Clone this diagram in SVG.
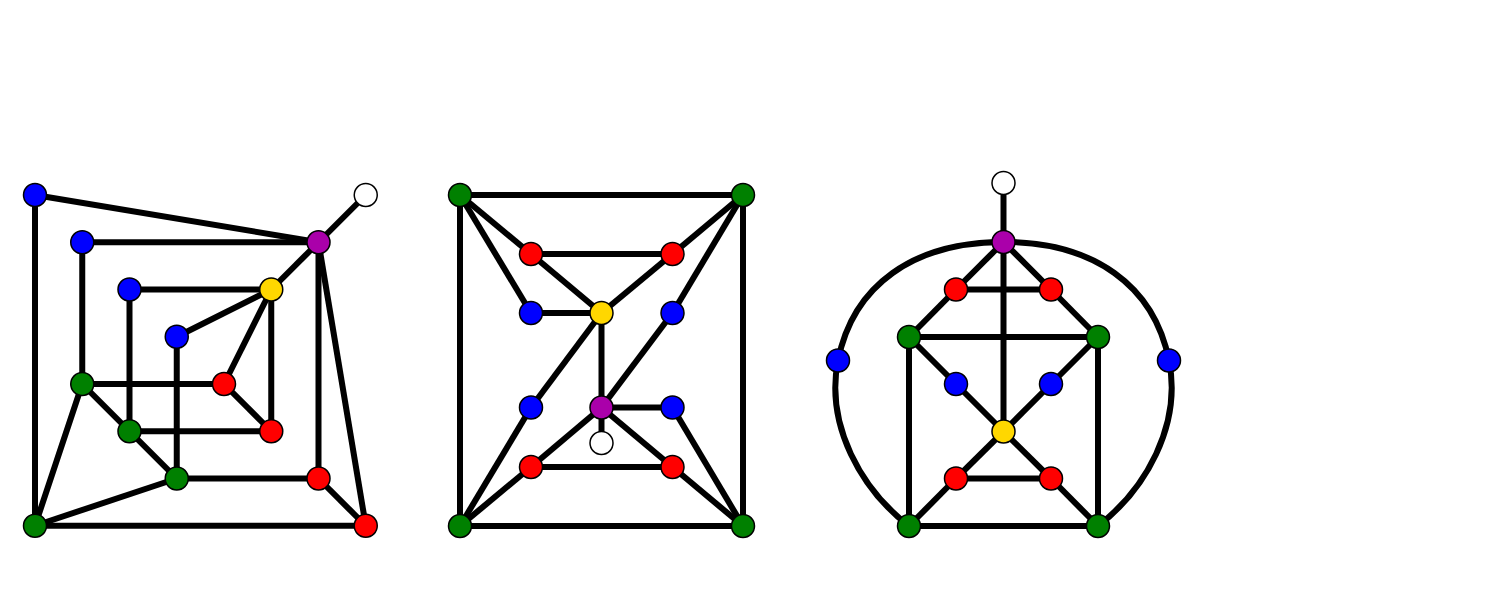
<svg xmlns="http://www.w3.org/2000/svg" width="1512" height="590" viewBox="0 0 1512 590">
<style>
.e{stroke:#000;stroke-width:6;fill:none;stroke-linecap:butt}
.n{stroke:#000;stroke-width:1.5}
.b{fill:#0000ff}.r{fill:#ff0000}.g{fill:#008000}.p{fill:#aa00aa}.y{fill:#ffd700}.w{fill:#ffffff}
</style>
<rect width="1512" height="590" fill="#fff"/>
<g id="connectors">
<!-- graph 1 -->
<line class="e" x1="35" y1="195" x2="318.5" y2="242.25"/>
<line class="e" x1="35" y1="195" x2="35" y2="525.75"/>
<line class="e" x1="365.75" y1="195" x2="318.5" y2="242.25"/>
<line class="e" x1="82.25" y1="242.25" x2="318.5" y2="242.25"/>
<line class="e" x1="82.25" y1="242.25" x2="82.25" y2="384"/>
<line class="e" x1="318.5" y1="242.25" x2="271.25" y2="289.5"/>
<line class="e" x1="318.5" y1="242.25" x2="318.5" y2="478.5"/>
<line class="e" x1="318.5" y1="242.25" x2="365.75" y2="525.75"/>
<line class="e" x1="129.5" y1="289.5" x2="271.25" y2="289.5"/>
<line class="e" x1="129.5" y1="289.5" x2="129.5" y2="431.25"/>
<line class="e" x1="271.25" y1="289.5" x2="176.75" y2="336.75"/>
<line class="e" x1="271.25" y1="289.5" x2="224" y2="384"/>
<line class="e" x1="271.25" y1="289.5" x2="271.25" y2="431.25"/>
<line class="e" x1="176.75" y1="336.75" x2="176.75" y2="478.5"/>
<line class="e" x1="82.25" y1="384" x2="224" y2="384"/>
<line class="e" x1="82.25" y1="384" x2="129.5" y2="431.25"/>
<line class="e" x1="82.25" y1="384" x2="35" y2="525.75"/>
<line class="e" x1="224" y1="384" x2="271.25" y2="431.25"/>
<line class="e" x1="129.5" y1="431.25" x2="271.25" y2="431.25"/>
<line class="e" x1="129.5" y1="431.25" x2="176.75" y2="478.5"/>
<line class="e" x1="176.75" y1="478.5" x2="318.5" y2="478.5"/>
<line class="e" x1="176.75" y1="478.5" x2="35" y2="525.75"/>
<line class="e" x1="318.5" y1="478.5" x2="365.75" y2="525.75"/>
<line class="e" x1="35" y1="525.75" x2="365.75" y2="525.75"/>
<!-- graph 2 -->
<line class="e" x1="460" y1="195" x2="743" y2="195"/>
<line class="e" x1="460" y1="195" x2="460" y2="526"/>
<line class="e" x1="743" y1="195" x2="743" y2="526"/>
<line class="e" x1="460" y1="526" x2="743" y2="526"/>
<line class="e" x1="460" y1="195" x2="531" y2="254"/>
<line class="e" x1="460" y1="195" x2="531" y2="313"/>
<line class="e" x1="743" y1="195" x2="672.5" y2="254"/>
<line class="e" x1="743" y1="195" x2="672.5" y2="313"/>
<line class="e" x1="531" y1="254" x2="672.5" y2="254"/>
<line class="e" x1="531" y1="254" x2="601.5" y2="313"/>
<line class="e" x1="672.5" y1="254" x2="601.5" y2="313"/>
<line class="e" x1="531" y1="313" x2="601.5" y2="313"/>
<line class="e" x1="601.5" y1="313" x2="531" y2="407.5"/>
<line class="e" x1="601.5" y1="313" x2="601.5" y2="407.5"/>
<line class="e" x1="672.5" y1="313" x2="601.5" y2="407.5"/>
<line class="e" x1="601.5" y1="407.5" x2="672.5" y2="407.5"/>
<line class="e" x1="601.5" y1="407.5" x2="601.5" y2="443"/>
<line class="e" x1="601.5" y1="407.5" x2="531" y2="467"/>
<line class="e" x1="601.5" y1="407.5" x2="672.5" y2="467"/>
<line class="e" x1="531" y1="407.5" x2="460" y2="526"/>
<line class="e" x1="531" y1="467" x2="460" y2="526"/>
<line class="e" x1="531" y1="467" x2="672.5" y2="467"/>
<line class="e" x1="672.5" y1="467" x2="743" y2="526"/>
<line class="e" x1="672.5" y1="407.5" x2="743" y2="526"/>
<!-- graph 3 -->
<path class="e" d="M909,526 C861.6,489.4 825,425.5 838,360.5 C853,285 913.5,242 1003.5,242 C1093.5,242 1154,285 1169,360.5 C1182,425.5 1145.4,489.4 1098,526"/>
<line class="e" x1="1003.5" y1="183" x2="1003.5" y2="242"/>
<line class="e" x1="1003.5" y1="242" x2="956" y2="289.5"/>
<line class="e" x1="1003.5" y1="242" x2="1051" y2="289.5"/>
<line class="e" x1="1003.5" y1="242" x2="1003.5" y2="431.5"/>
<line class="e" x1="956" y1="289.5" x2="1051" y2="289.5"/>
<line class="e" x1="956" y1="289.5" x2="909" y2="337"/>
<line class="e" x1="1051" y1="289.5" x2="1098" y2="337"/>
<line class="e" x1="909" y1="337" x2="1098" y2="337"/>
<line class="e" x1="909" y1="337" x2="956" y2="384"/>
<line class="e" x1="1098" y1="337" x2="1051" y2="384"/>
<line class="e" x1="909" y1="337" x2="909" y2="526"/>
<line class="e" x1="1098" y1="337" x2="1098" y2="526"/>
<line class="e" x1="956" y1="384" x2="1003.5" y2="431.5"/>
<line class="e" x1="1051" y1="384" x2="1003.5" y2="431.5"/>
<line class="e" x1="1003.5" y1="431.5" x2="956" y2="478.5"/>
<line class="e" x1="1003.5" y1="431.5" x2="1051" y2="478.5"/>
<line class="e" x1="956" y1="478.5" x2="1051" y2="478.5"/>
<line class="e" x1="956" y1="478.5" x2="909" y2="526"/>
<line class="e" x1="1051" y1="478.5" x2="1098" y2="526"/>
<line class="e" x1="909" y1="526" x2="1098" y2="526"/>
</g>
<g id="g1-a"><circle class="n b" cx="35" cy="195" r="11.5"/></g>
<g id="g1-w"><circle class="n w" cx="365.75" cy="195" r="11.5"/></g>
<g id="g1-b"><circle class="n b" cx="82.25" cy="242.25" r="11.5"/></g>
<g id="g1-p"><circle class="n p" cx="318.5" cy="242.25" r="11.5"/></g>
<g id="g1-c"><circle class="n b" cx="129.5" cy="289.5" r="11.5"/></g>
<g id="g1-y"><circle class="n y" cx="271.25" cy="289.5" r="11.5"/></g>
<g id="g1-d"><circle class="n b" cx="176.75" cy="336.75" r="11.5"/></g>
<g id="g1-e"><circle class="n g" cx="82.25" cy="384" r="11.5"/></g>
<g id="g1-f"><circle class="n r" cx="224" cy="384" r="11.5"/></g>
<g id="g1-g"><circle class="n g" cx="129.5" cy="431.25" r="11.5"/></g>
<g id="g1-h"><circle class="n r" cx="271.25" cy="431.25" r="11.5"/></g>
<g id="g1-i"><circle class="n g" cx="176.75" cy="478.5" r="11.5"/></g>
<g id="g1-j"><circle class="n r" cx="318.5" cy="478.5" r="11.5"/></g>
<g id="g1-k"><circle class="n g" cx="35" cy="525.75" r="11.5"/></g>
<g id="g1-l"><circle class="n r" cx="365.75" cy="525.75" r="11.5"/></g>

<g id="g2-tl"><circle class="n g" cx="460" cy="195" r="11.5"/></g>
<g id="g2-tr"><circle class="n g" cx="743" cy="195" r="11.5"/></g>
<g id="g2-r1"><circle class="n r" cx="531" cy="254" r="11.5"/></g>
<g id="g2-r2"><circle class="n r" cx="672.5" cy="254" r="11.5"/></g>
<g id="g2-b1"><circle class="n b" cx="531" cy="313" r="11.5"/></g>
<g id="g2-y"><circle class="n y" cx="601.5" cy="313" r="11.5"/></g>
<g id="g2-b2"><circle class="n b" cx="672.5" cy="313" r="11.5"/></g>
<g id="g2-b3"><circle class="n b" cx="531" cy="407.5" r="11.5"/></g>
<g id="g2-p"><circle class="n p" cx="601.5" cy="407.5" r="11.5"/></g>
<g id="g2-b4"><circle class="n b" cx="672.5" cy="407.5" r="11.5"/></g>
<g id="g2-w"><circle class="n w" cx="601.5" cy="443" r="11.5"/></g>
<g id="g2-r3"><circle class="n r" cx="531" cy="467" r="11.5"/></g>
<g id="g2-r4"><circle class="n r" cx="672.5" cy="467" r="11.5"/></g>
<g id="g2-bl"><circle class="n g" cx="460" cy="526" r="11.5"/></g>
<g id="g2-br"><circle class="n g" cx="743" cy="526" r="11.5"/></g>

<g id="g3-w"><circle class="n w" cx="1003.5" cy="183" r="11.5"/></g>
<g id="g3-p"><circle class="n p" cx="1003.5" cy="242" r="11.5"/></g>
<g id="g3-r1"><circle class="n r" cx="956" cy="289.5" r="11.5"/></g>
<g id="g3-r2"><circle class="n r" cx="1051" cy="289.5" r="11.5"/></g>
<g id="g3-g1"><circle class="n g" cx="909" cy="337" r="11.5"/></g>
<g id="g3-g2"><circle class="n g" cx="1098" cy="337" r="11.5"/></g>
<g id="g3-bl"><circle class="n b" cx="838" cy="360.5" r="11.5"/></g>
<g id="g3-br"><circle class="n b" cx="1169" cy="360.5" r="11.5"/></g>
<g id="g3-b1"><circle class="n b" cx="956" cy="384" r="11.5"/></g>
<g id="g3-b2"><circle class="n b" cx="1051" cy="384" r="11.5"/></g>
<g id="g3-y"><circle class="n y" cx="1003.5" cy="431.5" r="11.5"/></g>
<g id="g3-r3"><circle class="n r" cx="956" cy="478.5" r="11.5"/></g>
<g id="g3-r4"><circle class="n r" cx="1051" cy="478.5" r="11.5"/></g>
<g id="g3-g3"><circle class="n g" cx="909" cy="526" r="11.5"/></g>
<g id="g3-g4"><circle class="n g" cx="1098" cy="526" r="11.5"/></g>
</svg>
